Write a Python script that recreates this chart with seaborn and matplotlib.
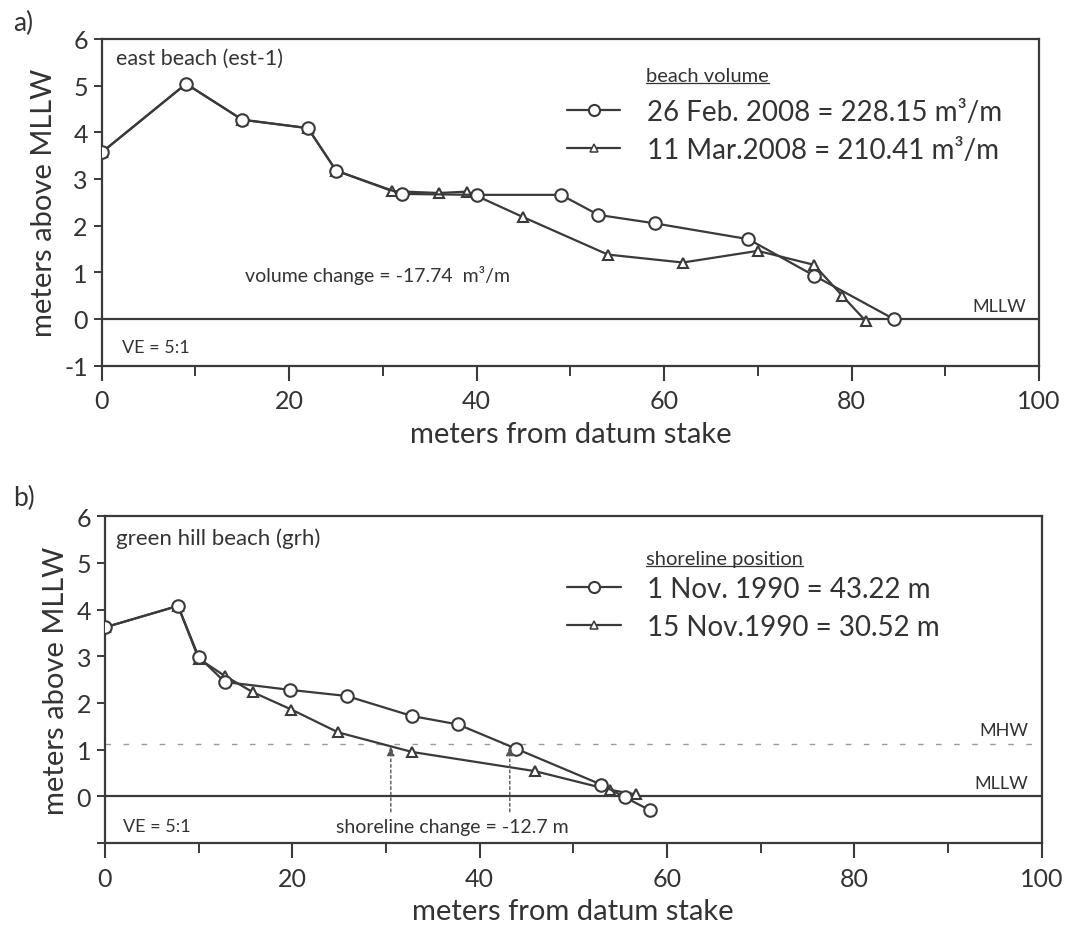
import matplotlib
matplotlib.use("Agg")
import matplotlib.pyplot as plt
import seaborn as sns
import pandas as pd
from matplotlib.lines import Line2D
from matplotlib.ticker import MultipleLocator

# ---------------- data ----------------
# panel a) east beach (est-1)
a_feb_x = [0, 9, 15, 22, 25, 32, 40, 49, 53, 59, 69, 76, 84.5]
a_feb_y = [3.57, 5.04, 4.27, 4.09, 3.18, 2.68, 2.66, 2.66, 2.23, 2.05, 1.71, 0.93, 0.0]
a_mar_x = [0, 9, 15, 22, 25, 31, 36, 39, 45, 54, 62, 70, 76, 79, 81.5]
a_mar_y = [3.57, 5.04, 4.27, 4.09, 3.18, 2.74, 2.70, 2.73, 2.18, 1.38, 1.21, 1.46, 1.16, 0.50, -0.04]
a_labels = ["26 Feb. 2008 = 228.15 m\u00b3/m", "11 Mar.2008 = 210.41 m\u00b3/m"]

# panel b) green hill beach (grh)
b_nov1_x = [0, 7.8, 10, 12.8, 19.8, 25.8, 32.8, 37.7, 43.9, 53, 55.5, 58.2]
b_nov1_y = [3.62, 4.08, 2.99, 2.45, 2.28, 2.15, 1.72, 1.54, 1.02, 0.25, -0.02, -0.30]
b_nov15_x = [0, 7.8, 10, 12.8, 15.8, 19.9, 24.9, 32.8, 45.9, 53.9, 56.7]
b_nov15_y = [3.62, 4.08, 2.95, 2.58, 2.23, 1.86, 1.37, 0.95, 0.54, 0.14, 0.04]
b_labels = ["1 Nov. 1990 = 43.22 m", "15 Nov.1990 = 30.52 m"]
shoreline_positions = [43.22, 30.52]
mhw_level = 1.125
mllw_level = 0.0

x_ticks = [0, 20, 40, 60, 80, 100]
y_ticks = [-1, 0, 1, 2, 3, 4, 5, 6]

# ---------------- style ----------------
sns.set_theme(style="ticks")
plt.rcParams["font.family"] = ["Lato", "DejaVu Sans"]
INK = "#3a3a3a"
TXT = "#333333"
plt.rcParams.update({
    "axes.edgecolor": INK, "axes.linewidth": 1.6,
    "xtick.color": INK, "ytick.color": INK,
    "xtick.labelcolor": TXT, "ytick.labelcolor": TXT,
    "axes.labelcolor": TXT, "text.color": TXT,
})

fig = plt.figure(figsize=(10.72, 9.28), dpi=100)
ax1 = fig.add_axes([0.0949, 0.6049, 0.8743, 0.3520])
ax2 = fig.add_axes([0.0979, 0.0905, 0.8738, 0.3521])

def draw_series(ax, xs, ys, marker, ms, label):
    df = pd.DataFrame({"x": xs, "y": ys})
    sns.lineplot(data=df, x="x", y="y", sort=False, ax=ax, color=INK,
                 linewidth=1.6, marker=marker, markersize=ms,
                 markerfacecolor="white", markeredgecolor=INK,
                 markeredgewidth=1.5, label=label, legend=False, zorder=3)

def style_axes(ax, ylabels):
    ax.set_xlim(0, 100)
    ax.set_ylim(-1, 6)
    ax.set_xticks(x_ticks)
    ax.xaxis.set_minor_locator(MultipleLocator(10))
    ax.set_yticks(y_ticks)
    ax.set_yticklabels(ylabels)
    ax.tick_params(axis="x", which="major", length=11, width=1.5, labelsize=18, pad=6)
    ax.tick_params(axis="x", which="minor", length=7, width=1.4)
    ax.tick_params(axis="y", which="major", length=6, width=1.4, labelsize=18, pad=4)
    ax.set_xlabel("meters from datum stake", fontsize=21, labelpad=6)
    ax.set_ylabel("meters above MLLW", fontsize=21, labelpad=5)
    for s in ax.spines.values():
        s.set_visible(True)
        s.set_color(INK)
        s.set_linewidth(1.6)
    ax.axhline(mllw_level, color=INK, linewidth=1.6, zorder=2)

def add_legend(ax, labels, anchor):
    handles = [
        Line2D([], [], color=INK, linewidth=1.6, marker="o", markersize=8,
               markerfacecolor="white", markeredgecolor=INK, markeredgewidth=1.5),
        Line2D([], [], color=INK, linewidth=1.6, marker="^", markersize=6,
               markerfacecolor="white", markeredgecolor=INK, markeredgewidth=1.1),
    ]
    leg = ax.legend(handles, labels, loc="upper left", bbox_to_anchor=anchor,
                    frameon=False, fontsize=20, handlelength=1.94,
                    handletextpad=0.94, labelspacing=0.43, borderpad=0,
                    borderaxespad=0)
    for t in leg.get_texts():
        t.set_color(TXT)
    return leg

# ---------------- panel a ----------------
draw_series(ax1, a_mar_x, a_mar_y, "^", 7.5, a_labels[1])
draw_series(ax1, a_feb_x, a_feb_y, "o", 9, a_labels[0])
style_axes(ax1, [str(v) for v in y_ticks])
add_legend(ax1, a_labels, (0.496, 0.816))
ax1.text(1.5, 5.6, "east beach (est-1)", fontsize=15.5, va="center", ha="left")
ax1.text(15.3, 0.96, "volume change = -17.74  m\u00b3/m", fontsize=14, va="center", ha="left")
ax1.text(2.2, -0.6, "VE = 5:1", fontsize=13, va="center", ha="left")
ax1.text(98.6, 0.27, "MLLW", fontsize=13, va="center", ha="right")
t1 = ax1.text(58.1, 5.21, "beach volume", fontsize=14.5, va="center", ha="left")
fig.text(0.012, 0.975, "a)", fontsize=19, ha="left", va="center")

# ---------------- panel b ----------------
draw_series(ax2, b_nov15_x, b_nov15_y, "^", 7.5, b_labels[1])
draw_series(ax2, b_nov1_x, b_nov1_y, "o", 9, b_labels[0])
style_axes(ax2, ["", "0", "1", "2", "3", "4", "5", "6"])
ax2.axhline(mhw_level, color="#9a9a9a", linewidth=1.0, linestyle=(0, (4, 9)), zorder=1)
add_legend(ax2, b_labels, (0.493, 0.818))
for xp in shoreline_positions:
    ax2.annotate("", xy=(xp, mhw_level - 0.03), xytext=(xp, -0.33),
                 arrowprops=dict(arrowstyle="-|>,head_length=0.5,head_width=0.18",
                                 color="#555555", linewidth=1.0,
                                 linestyle=(0, (2, 2)), shrinkA=0, shrinkB=0))
ax2.text(1.2, 5.55, "green hill beach (grh)", fontsize=16, va="center", ha="left")
ax2.text(24.7, -0.64, "shoreline change = -12.7 m", fontsize=14, va="center", ha="left")
ax2.text(1.9, -0.63, "VE = 5:1", fontsize=13, va="center", ha="left")
ax2.text(98.6, 1.43, "MHW", fontsize=13, va="center", ha="right")
ax2.text(98.6, 0.28, "MLLW", fontsize=13, va="center", ha="right")
t2 = ax2.text(57.8, 5.10, "shoreline position", fontsize=14.5, va="center", ha="left")
fig.text(0.012, 0.463, "b)", fontsize=19, ha="left", va="center")

# underline legend headings
fig.canvas.draw()
renderer = fig.canvas.get_renderer()
for ax, t in ((ax1, t1), (ax2, t2)):
    bb = t.get_window_extent(renderer=renderer)
    inv = ax.transData.inverted()
    (x0, y0), (x1, _) = inv.transform([(bb.x0, bb.y0 + 1), (bb.x1, bb.y0 + 1)])
    ax.plot([x0, x1], [y0, y0], color=TXT, linewidth=0.9)

fig.savefig("out.png", dpi=100)
